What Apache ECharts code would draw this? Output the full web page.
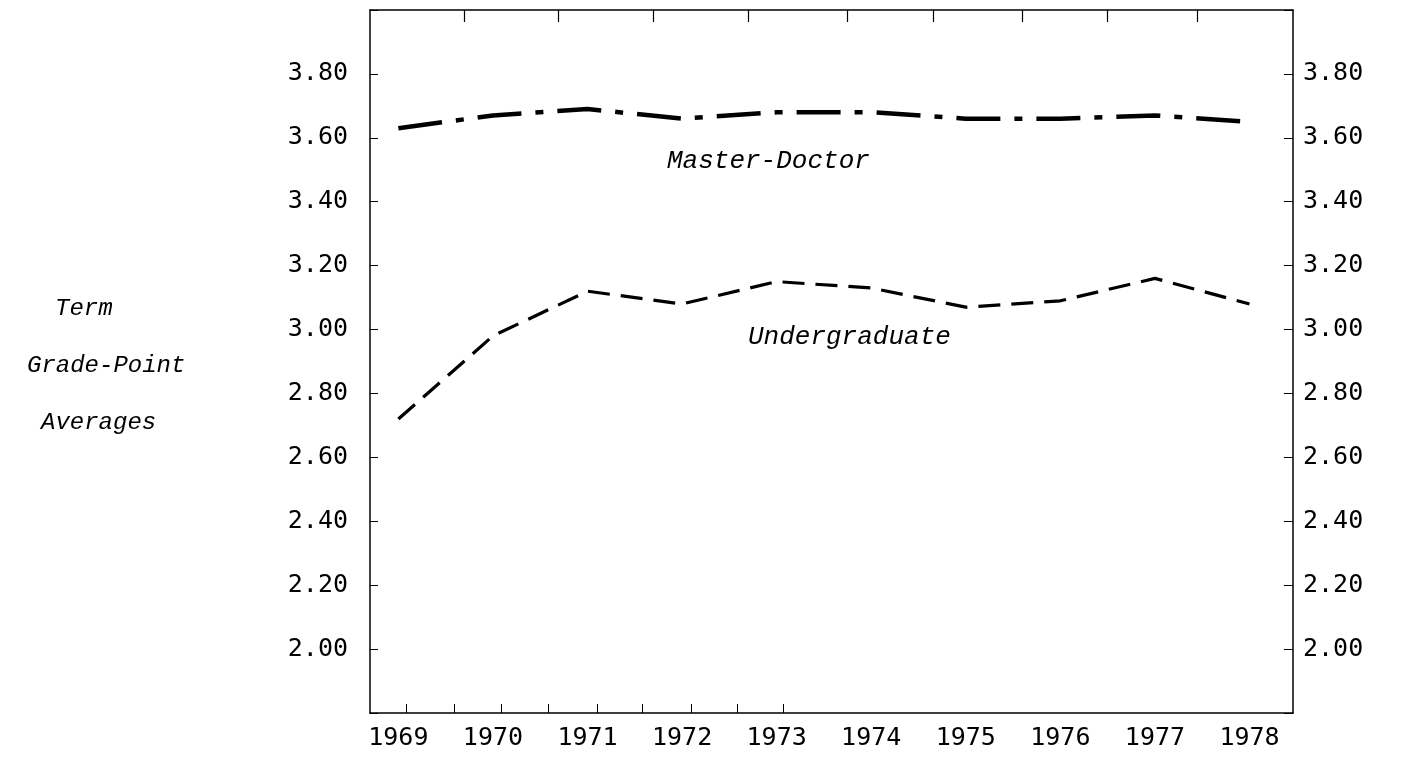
<!DOCTYPE html>
<html>
<head>
<meta charset="utf-8">
<script src="https://cdn.jsdelivr.net/npm/echarts@6/dist/echarts.min.js"></script>
<style>
html,body{margin:0;padding:0;background:#fff;}
#chart{width:1423px;height:757px;}
</style>
</head>
<body>
<div id="chart"></div>
<script>
// Data
const years = [1969, 1970, 1971, 1972, 1973, 1974, 1975, 1976, 1977, 1978];
const masterDoctor = [3.63, 3.67, 3.69, 3.66, 3.68, 3.68, 3.66, 3.66, 3.67, 3.65];
const undergraduate = [2.72, 2.98, 3.12, 3.08, 3.15, 3.13, 3.07, 3.09, 3.16, 3.08];
const yTickLabels = ['2.00','2.20','2.40','2.60','2.80','3.00','3.20','3.40','3.60','3.80'];
const bottomTicks = [1969.08, 1969.59, 1970.09, 1970.58, 1971.1, 1971.58, 1972.1, 1972.58, 1973.07];
const topTicks = [1969.7, 1970.69, 1971.7, 1972.7, 1973.75, 1974.66, 1975.6, 1976.5, 1977.45];

const chart = echarts.init(document.getElementById('chart'), null, {renderer: 'canvas'});

const monoFont = '"DejaVu Sans Mono", monospace';
const italicFont = '"Liberation Mono", "Courier New", monospace';

function yFmt(v) {
  const s = (Math.round(v * 100) / 100).toFixed(2);
  return yTickLabels.indexOf(s) >= 0 ? s : '';
}

const axisLineStyle = {color: '#000', width: 1.5};

const option = {
  backgroundColor: '#fff',
  animation: false,
  grid: {left: 370, right: 130, top: 10, bottom: 44, containLabel: false},
  xAxis: [
    {
      type: 'value', position: 'bottom', min: 1968.7, max: 1978.46,
      axisLine: {show: true, lineStyle: axisLineStyle},
      axisTick: {show: true, inside: true, length: 9, customValues: bottomTicks, lineStyle: {color: '#000', width: 1}},
      axisLabel: {show: true, customValues: years, formatter: v => String(Math.round(v)), color: '#000',
                  fontFamily: monoFont, fontSize: 25, margin: 13},
      splitLine: {show: false}
    },
    {
      type: 'value', position: 'top', min: 1968.7, max: 1978.46,
      axisLine: {show: true, lineStyle: axisLineStyle},
      axisTick: {show: true, inside: true, length: 12, customValues: topTicks, lineStyle: {color: '#000', width: 1.2}},
      axisLabel: {show: false},
      splitLine: {show: false}
    }
  ],
  yAxis: [
    {
      type: 'value', position: 'left', min: 1.8, max: 4.0, interval: 0.2,
      axisLine: {show: true, lineStyle: axisLineStyle},
      axisTick: {show: true, inside: true, length: 8, lineStyle: {color: '#000', width: 1}},
      axisLabel: {formatter: yFmt, color: '#000', fontFamily: monoFont, fontSize: 25, margin: 22},
      splitLine: {show: false}
    },
    {
      type: 'value', position: 'right', min: 1.8, max: 4.0, interval: 0.2,
      axisLine: {show: true, lineStyle: axisLineStyle},
      axisTick: {show: true, inside: true, length: 9, lineStyle: {color: '#000', width: 1}},
      axisLabel: {formatter: yFmt, color: '#000', fontFamily: monoFont, fontSize: 25, margin: 10},
      splitLine: {show: false}
    }
  ],
  series: [
    {
      name: 'Master-Doctor', type: 'line', xAxisIndex: 0, yAxisIndex: 0,
      data: years.map((y, i) => [y, masterDoctor[i]]),
      symbol: 'none', smooth: false,
      lineStyle: {color: '#000', width: 4.5, type: [44, 14, 8, 14], cap: 'butt'},
      label: {show: false}
    },
    {
      name: 'Undergraduate', type: 'line', xAxisIndex: 0, yAxisIndex: 0,
      data: years.map((y, i) => [y, undergraduate[i]]),
      symbol: 'none', smooth: false,
      lineStyle: {color: '#000', width: 3.2, type: [22, 11], cap: 'butt'}
    }
  ],
  graphic: [
    {type: 'text', left: 667, top: 148, style: {text: 'Master-Doctor', font: 'italic 26px ' + italicFont, fill: '#000'}},
    {type: 'text', left: 748, top: 324, style: {text: 'Undergraduate', font: 'italic 26px ' + italicFont, fill: '#000'}},
    {type: 'text', left: 55, top: 297, style: {text: 'Term', font: 'italic 24px ' + italicFont, fill: '#000'}},
    {type: 'text', left: 27, top: 354, style: {text: 'Grade-Point', font: 'italic 24px ' + italicFont, fill: '#000'}},
    {type: 'text', left: 41, top: 411, style: {text: 'Averages', font: 'italic 24px ' + italicFont, fill: '#000'}}
  ]
};

chart.setOption(option);
</script>
</body>
</html>
